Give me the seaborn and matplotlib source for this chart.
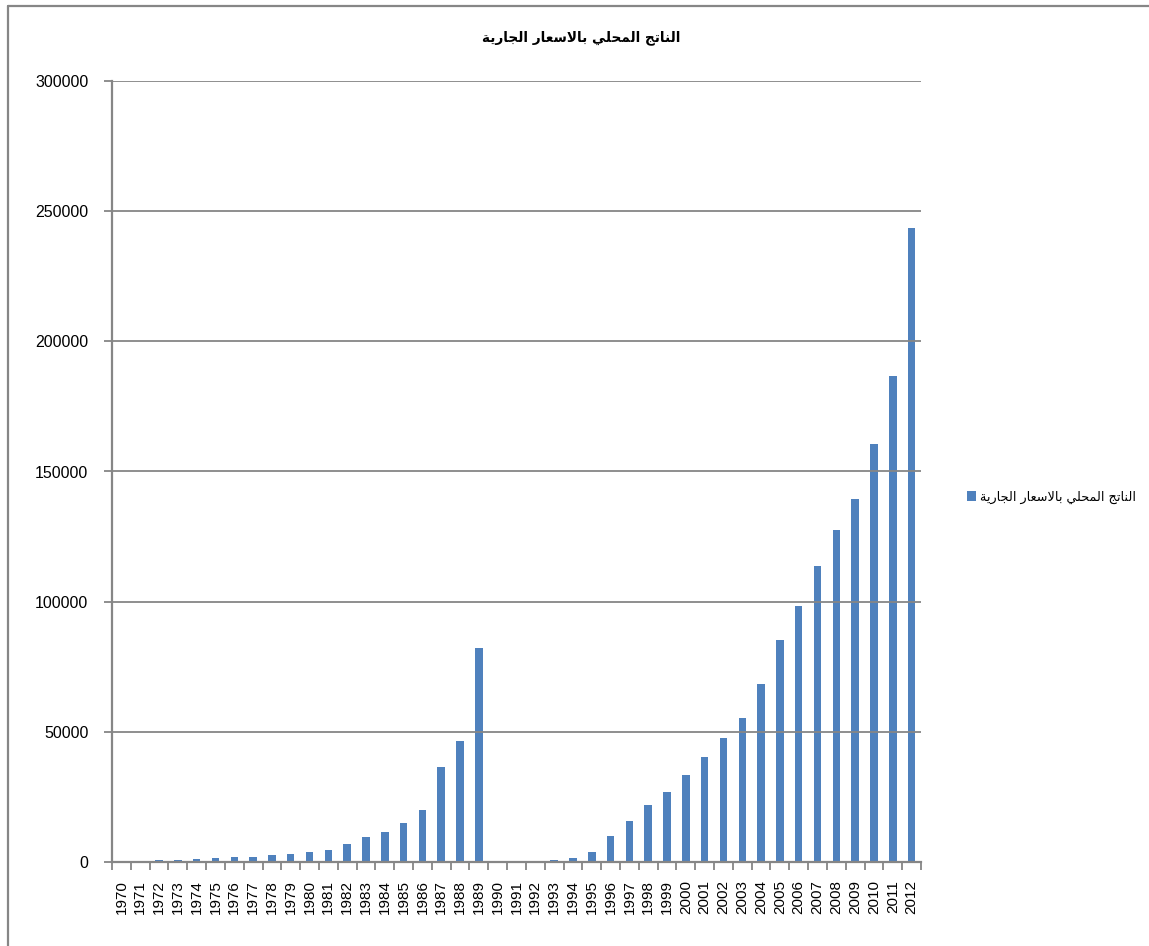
import matplotlib
matplotlib.use("Agg")
import matplotlib.pyplot as plt
from matplotlib.lines import Line2D
from matplotlib.ticker import FixedLocator, NullFormatter
import seaborn as sns
import pandas as pd
import numpy as np

# Gross domestic product at current prices, 1970-2012
years = [str(y) for y in range(1970, 2013)]
gdp = [500, 550, 700, 800, 1150, 1500, 1750, 2100, 2600, 3100,
       3850, 4750, 6800, 9500, 11650, 15100, 20000, 36300, 46500, 82200,
       0, 0, 0, 600, 1550, 3850, 10100, 15750, 21800, 26900,
       33300, 40500, 47600, 55400, 68500, 85400, 98500, 113800, 127600, 139600,
       160700, 186500, 243500]
series_name = "الناتج المحلي بالاسعار الجارية"
y_ticks = [0, 50000, 100000, 150000, 200000, 250000, 300000]

# Contextual forms of the Arabic letters used: (isolated, final, initial, medial)
FORMS = {
    'ا': ('\uFE8D', '\uFE8E', None, None),
    'ب': ('\uFE8F', '\uFE90', '\uFE91', '\uFE92'),
    'ة': ('\uFE93', '\uFE94', None, None),
    'ت': ('\uFE95', '\uFE96', '\uFE97', '\uFE98'),
    'ج': ('\uFE9D', '\uFE9E', '\uFE9F', '\uFEA0'),
    'ح': ('\uFEA1', '\uFEA2', '\uFEA3', '\uFEA4'),
    'ر': ('\uFEAD', '\uFEAE', None, None),
    'س': ('\uFEB1', '\uFEB2', '\uFEB3', '\uFEB4'),
    'ع': ('\uFEC9', '\uFECA', '\uFECB', '\uFECC'),
    'ل': ('\uFEDD', '\uFEDE', '\uFEDF', '\uFEE0'),
    'م': ('\uFEE1', '\uFEE2', '\uFEE3', '\uFEE4'),
    'ن': ('\uFEE5', '\uFEE6', '\uFEE7', '\uFEE8'),
    'ي': ('\uFEF1', '\uFEF2', '\uFEF3', '\uFEF4'),
}


def shape_arabic(text):
    """Join Arabic letters into their contextual forms and put them in visual order."""
    chars = list(text)
    n = len(chars)
    out = []
    i = 0
    while i < n:
        c = chars[i]
        if c not in FORMS:
            out.append(c)
            i += 1
            continue
        prev = chars[i - 1] if i > 0 else None
        joins_prev = prev in FORMS and FORMS[prev][2] is not None
        if c == 'ل' and i + 1 < n and chars[i + 1] == 'ا':
            out.append('\uFEFC' if joins_prev else '\uFEFB')
            i += 2
            continue
        nxt = chars[i + 1] if i + 1 < n else None
        joins_next = FORMS[c][2] is not None and nxt in FORMS
        iso, fin, ini, med = FORMS[c]
        if joins_prev and joins_next:
            out.append(med)
        elif joins_prev:
            out.append(fin)
        elif joins_next:
            out.append(ini)
        else:
            out.append(iso)
        i += 1
    return ''.join(reversed(out))


df = pd.DataFrame({"year": years, "gdp": gdp})

sns.set_style("white")
plt.rcParams['font.family'] = ['Liberation Sans', 'DejaVu Sans']
plt.rcParams['text.color'] = 'black'
plt.rcParams['xtick.color'] = 'black'
plt.rcParams['ytick.color'] = 'black'

W, H = 1149, 946
fig = plt.figure(figsize=(W / 100, H / 100), dpi=100)
ax = fig.add_axes([112 / W, 1 - 862 / H, (921 - 112) / W, (862 - 81) / H])

bar_color = "#4F81BD"
grid_color = "#868686"

sns.barplot(data=df, x="year", y="gdp", color=bar_color, width=0.4,
            saturation=1, ax=ax, label=shape_arabic(series_name),
            linewidth=0, zorder=2)
if ax.get_legend() is not None:
    ax.get_legend().remove()

ax.set_xlim(-0.5, len(years) - 0.5)
ax.set_ylim(0, 300000)
ax.set_yticks(y_ticks)
ax.set_yticklabels([str(v) for v in y_ticks], fontsize=11.5)
ax.set_xlabel("")
ax.set_ylabel("")

# horizontal gridlines
for v in y_ticks[1:]:
    ax.axhline(v, color=grid_color, lw=1.3, zorder=3)

# category labels at bar centres, tick marks between categories
ax.set_xticks(range(len(years)))
ax.set_xticklabels(years, rotation=90, fontsize=11)
ax.tick_params(axis='x', which='major', length=0, pad=13, colors='black')
ax.xaxis.set_minor_locator(FixedLocator(np.arange(-0.5, len(years), 1.0)))
ax.xaxis.set_minor_formatter(NullFormatter())
ax.tick_params(axis='x', which='minor', length=6, width=1.3, color=grid_color,
               direction='out', bottom=True)
ax.tick_params(axis='y', which='major', length=6, width=1.3, color=grid_color,
               labelcolor='black', direction='out', left=True, pad=11)

for side in ('top', 'right'):
    ax.spines[side].set_visible(False)
for side in ('left', 'bottom'):
    ax.spines[side].set_color(grid_color)
    ax.spines[side].set_linewidth(1.6)
    ax.spines[side].set_zorder(4)

fig.text(581 / W, 1 - 38 / H, shape_arabic(series_name), ha='center', va='center',
         fontsize=9.8, fontweight='bold', family=['DejaVu Sans'], color='black')

handles, labels = ax.get_legend_handles_labels()
fig.legend(handles, labels, loc='center left',
           bbox_to_anchor=(955 / W, 1 - 497 / H), frameon=False,
           handlelength=0.75, handleheight=0.75, handletextpad=0.3,
           prop={'size': 9.2, 'family': ['DejaVu Sans']})

# chart area border (top and left edges)
fig.add_artist(Line2D([8 / W, 1], [1 - 6 / H, 1 - 6 / H], color=grid_color, lw=1.6))
fig.add_artist(Line2D([8 / W, 8 / W], [0, 1 - 6 / H], color=grid_color, lw=1.6))

fig.savefig("out.png", dpi=100, facecolor="white")
